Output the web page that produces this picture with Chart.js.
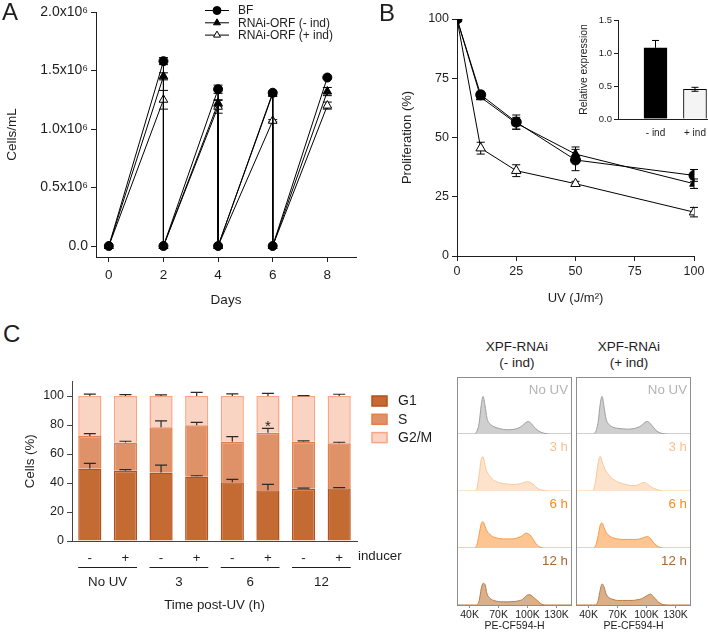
<!DOCTYPE html>
<html>
<head>
<meta charset="utf-8">
<script src="https://cdn.jsdelivr.net/npm/chart.js@4.4.1/dist/chart.umd.min.js"></script>
<style>
  body { margin: 0; background: #fff; font-family: 'Liberation Sans', Arial, sans-serif; color: #1e1e1e; }
  #fig { position: relative; width: 708px; height: 632px; overflow: hidden; background: #fff; }
  #fig canvas, .t, .box { position: absolute; }
  .t { white-space: nowrap; line-height: 16px; text-align: center; font-size: 13.5px; }
  .letter { font-size: 24px; line-height: 26px; text-align: left; }
  .box { border: 1px solid #8e8e8e; box-sizing: border-box; z-index: 2; }
</style>
</head>
<body>
<div id="fig">
  <canvas id="chartA" width="362" height="312" style="left:0;top:0"></canvas>
  <canvas id="chartB" width="348" height="312" style="left:360px;top:0"></canvas>
  <canvas id="chartInset" width="148" height="132" style="left:560px;top:8px"></canvas>
  <canvas id="chartC" width="440" height="262" style="left:0;top:370px"></canvas>

  <div class="t letter" style="left:2px;top:-1px">A</div>
  <div class="t letter" style="left:379px;top:0px">B</div>
  <div class="t letter" style="left:3px;top:321px">C</div>

  <div class="t" style="left:457px;top:339px;width:120px">XPF-RNAi</div>
  <div class="t" style="left:457px;top:355px;width:120px">(- ind)</div>
  <div class="t" style="left:569px;top:339px;width:120px">XPF-RNAi</div>
  <div class="t" style="left:569px;top:355px;width:120px">(+ ind)</div>

  <div class="box" style="left:457px;top:377px;width:115px;height:229px"></div>
  <div class="box" style="left:576px;top:377px;width:115px;height:229px"></div>
</div>

<script>
Chart.defaults.font.family = "'Liberation Sans', Arial, Helvetica, sans-serif";
Chart.defaults.color = '#1e1e1e';
Chart.defaults.animation = false;
Chart.defaults.responsive = false;
Chart.defaults.plugins.legend.display = false;
Chart.defaults.plugins.tooltip.enabled = false;

// ---------- panel A: growth curves (x10^6 cells/mL) ----------
const seriesA = ['BF', 'RNAi-ORF (- ind)', 'RNAi-ORF (+ ind)'];
const daysA = [0, 2, 2, 4, 4, 6, 6, 8];
const bfA = [0, 1.58, 0, 1.34, 0, 1.31, 0, 1.44];
const bfErrA = [0, 0.03, 0, 0.035, 0, 0.01, 0, 0.01];
const minusA = [0, 1.45, 0, 1.22, 0, 1.30, 0, 1.32];
const minusErrA = [0, 0.03, 0, 0.03, 0, 0.01, 0, 0.035];
const plusA = [0, 1.25, 0, 1.19, 0, 1.07, 0, 1.20];
const plusErrA = [0, 0.08, 0, 0.055, 0, 0.01, 0, 0.03];
const dayTicksA = [0, 2, 4, 6, 8];
const cellTicksA = [0, 0.5, 1.0, 1.5, 2.0];
const cellTickLabelsA = ['0.0', '0.5x10⁶', '1.0x10⁶', '1.5x10⁶', '2.0x10⁶'];

// ---------- panel B: UV survival ----------
const uvB = [0, 10, 25, 50, 100];
const bfB = [100, 68, 56.5, 40.5, 34];
const bfErrB = [0, 1.5, 3, 4.5, 2.5];
const minusB = [100, 67, 56, 43, 30.5];
const minusErrB = [0, 1, 2.5, 3, 2];
const plusB = [100, 45.5, 36, 30.5, 18.5];
const plusErrB = [0, 2.5, 2.5, 1, 2];
const uvTicksB = [0, 25, 50, 75, 100];
const prolTicksB = [0, 25, 50, 75, 100];

// inset: relative expression
const insetLabels = ['- ind', '+ ind'];
const insetPos = [1, 2];
const insetVals = [1.08, 0.45];
const insetErr = [0.11, 0.03];
const insetTicks = [0, 0.5, 1.0, 1.5];

// ---------- panel C: cell cycle ----------
const inducerC = ['-', '+', '-', '+', '-', '+', '-', '+'];
const timeGroupsC = ['No UV', '3', '6', '12'];
const phaseC = ['G1', 'S', 'G2/M'];
const g1C = [50, 48.5, 47.3, 44.5, 40.5, 35, 36, 36.3];
const g1ErrC = [3.5, 0.7, 5, 0.5, 2, 4, 0.5, 0.5];
const sC = [22.4, 19.5, 31.1, 35.3, 28, 39.7, 32.5, 31.1];
const sErrC = [1.7, 0.8, 4.4, 2, 3.5, 3, 0.5, 0.7];
const g2mC = [27.6, 32, 21.6, 20.2, 31.5, 25.3, 31.5, 32.6];
const g2mErrC = [1.3, 1, 0.8, 2.5, 1.5, 1.8, 0.3, 1.2];
const cellTicksC = [0, 20, 40, 60, 80, 100];
const starIndexC = 5;

// flow histograms (PE-CF594-H in K, height as % of row)
const histX = [27, 44, 47, 50, 52, 54, 56, 58, 61, 65, 70, 75, 80, 85, 90, 95, 98, 101, 104, 107, 110, 114, 118, 125, 146];
const histTicks = [40, 70, 100, 130];
const histRowLabels = ['No UV', '3 h', '6 h', '12 h'];
const noUvMinus = [0, 0, 3, 20, 50, 66, 50, 28, 18, 13, 10, 8, 7.5, 8, 10, 15, 20, 22, 18, 12, 7, 3, 1, 0, 0];
const h3Minus   = [0, 0, 2, 30, 55, 60, 45, 34, 26, 19, 15, 13, 12, 11.5, 12, 14, 16, 16, 14, 10, 5, 2, 0.5, 0, 0];
const h6Minus   = [0, 0, 3, 25, 42, 46, 38, 30, 24, 19, 17, 16, 16, 16, 18, 22, 26, 25, 20, 12, 5, 1, 0, 0, 0];
const h12Minus  = [0, 0, 0, 8, 28, 38, 36, 20, 12, 8, 6, 5.5, 5.5, 6, 7, 10, 15, 18, 17, 12, 8, 2, 0, 0, 0];
const noUvPlus  = [0, 0, 3, 22, 52, 66, 48, 27, 17, 12, 10, 9, 8.5, 9, 11, 15, 20, 22, 18, 12, 6, 2, 0.5, 0, 0];
const h3Plus    = [0, 0, 15, 50, 61, 52, 42, 35, 28, 21, 16, 13, 11, 9.5, 10, 14, 15, 12, 8, 5, 3, 1, 0, 0, 0];
const h6Plus    = [0, 0, 3, 22, 40, 44, 36, 28, 22, 18, 16, 15, 15, 15, 15, 17, 19, 20, 17, 10, 5, 1, 0, 0, 0];
const h12Plus   = [0, 0, 0, 8, 26, 37, 32, 20, 13, 10, 8, 8, 8, 8, 9, 11, 14, 17, 19, 15, 9, 3, 0.5, 0, 0];
const histMinus = [noUvMinus, h3Minus, h6Minus, h12Minus];
const histPlus = [noUvPlus, h3Plus, h6Plus, h12Plus];

// ---------- helpers ----------
const INK = '#1e1e1e';
const fixedTicks = vals => s => { s.ticks = vals.map(v => ({ value: v })); };
const grid = (len) => ({ drawOnChartArea: false, color: INK, tickLength: len, tickWidth: 1 });
const xy = (xs, ys) => xs.map((x, i) => ({ x: x, y: ys[i] }));

// error bars, drawn from each dataset's "errors" array
const errorBars = {
  id: 'errorBars',
  beforeDatasetsDraw(chart, args, opts) { if (opts.under) drawErrors(chart, opts); },
  afterDatasetsDraw(chart, args, opts) { if (!opts.under) drawErrors(chart, opts); }
};
function drawErrors(chart, opts) {
  const ctx = chart.ctx;
  chart.data.datasets.forEach((ds, i) => {
    if (!ds.errors) return;
    const meta = chart.getDatasetMeta(i);
    const ys = chart.scales[meta.yAxisID];
    const unit = ys.getPixelForValue(0) - ys.getPixelForValue(1);
    ctx.save();
    ctx.strokeStyle = opts.color || '#000';
    ctx.lineWidth = opts.width || 1;
    meta.data.forEach((el, j) => {
      const e = ds.errors[j];
      if (!e) return;
      const d = e * unit, c = opts.cap / 2, x = el.x, y = el.y;
      ctx.beginPath();
      ctx.moveTo(x, y); ctx.lineTo(x, y - d);
      ctx.moveTo(x - c, y - d); ctx.lineTo(x + c, y - d);
      if (!opts.upOnly) {
        ctx.moveTo(x, y); ctx.lineTo(x, y + d);
        ctx.moveTo(x - c, y + d); ctx.lineTo(x + c, y + d);
      }
      ctx.stroke();
    });
    ctx.restore();
  });
}

function lineSet(label, xs, ys, errs, style, fill, r) {
  return {
    label: label, data: xy(xs, ys), errors: errs, showLine: true,
    borderColor: '#000', borderWidth: 1, pointStyle: style, pointRadius: r,
    pointBackgroundColor: fill, pointBorderColor: '#000', pointBorderWidth: 1
  };
}

// ---------- chart A ----------
const legendA = {
  id: 'legendA',
  afterDraw(chart) {
    const ctx = chart.ctx;
    ctx.save();
    chart.data.datasets.forEach((ds, i) => {
      const y = 10.5 + i * 12.3;
      ctx.strokeStyle = '#000'; ctx.lineWidth = 1;
      ctx.beginPath(); ctx.moveTo(205, y); ctx.lineTo(229, y); ctx.stroke();
      ctx.fillStyle = ds.pointBackgroundColor;
      Chart.helpers.drawPoint(ctx, { pointStyle: ds.pointStyle, radius: 4, rotation: 0, borderWidth: 1 }, 217, y);
      ctx.fillStyle = INK; ctx.font = "12px 'Liberation Sans', Arial, sans-serif";
      ctx.textBaseline = 'middle'; ctx.textAlign = 'left';
      ctx.fillText(ds.label, 238, y + 0.5);
    });
    ctx.restore();
  }
};

new Chart(document.getElementById('chartA'), {
  type: 'scatter',
  data: { datasets: [
    lineSet(seriesA[0], daysA, bfA, bfErrA, 'circle', '#000', 4.5),
    lineSet(seriesA[1], daysA, minusA, minusErrA, 'triangle', '#000', 5),
    lineSet(seriesA[2], daysA, plusA, plusErrA, 'triangle', '#fff', 5)
  ] },
  options: {
    layout: { padding: { top: 12, right: 2, left: 0, bottom: 0 } },
    plugins: { errorBars: { under: true, cap: 9 } },
    scales: {
      x: {
        type: 'linear', min: -0.47, max: 9.05, bounds: 'data',
        afterBuildTicks: fixedTicks(dayTicksA), afterFit: s => { s.height = 55; },
        grid: grid(5), border: { color: INK },
        ticks: { font: { size: 13.5 }, padding: 5, autoSkip: false, maxRotation: 0 },
        title: { display: true, text: 'Days', font: { size: 13.5 }, padding: { top: 0, bottom: 4 } }
      },
      y: {
        type: 'linear', min: -0.094, max: 2.0, bounds: 'data',
        afterBuildTicks: fixedTicks(cellTicksA), afterFit: s => { s.width = 96; },
        grid: grid(5), border: { color: INK },
        ticks: { font: { size: 14 }, padding: 3, autoSkip: false, callback: (v, i) => cellTickLabelsA[i] },
        title: { display: true, text: 'Cells/mL', font: { size: 13.5 }, padding: { top: 4, bottom: 0 } }
      }
    }
  },
  plugins: [errorBars, legendA]
});

// ---------- chart B ----------
new Chart(document.getElementById('chartB'), {
  type: 'scatter',
  data: { datasets: [
    lineSet('BF', uvB, bfB, bfErrB, 'circle', '#000', 5),
    lineSet('RNAi-ORF (- ind)', uvB, minusB, minusErrB, 'triangle', '#000', 5),
    lineSet('RNAi-ORF (+ ind)', uvB, plusB, plusErrB, 'triangle', '#fff', 5.5)
  ] },
  options: {
    layout: { padding: { top: 19, right: 14, left: 0, bottom: 0 } },
    plugins: { errorBars: { under: true, cap: 8 } },
    scales: {
      x: {
        type: 'linear', min: 0, max: 100, bounds: 'data',
        afterBuildTicks: fixedTicks(uvTicksB), afterFit: s => { s.height = 56; },
        grid: grid(5), border: { color: INK },
        ticks: { font: { size: 12.5 }, padding: 3, autoSkip: false, maxRotation: 0 },
        title: { display: true, text: 'UV (J/m²)', font: { size: 13 }, padding: { top: 0, bottom: 6 } }
      },
      y: {
        type: 'linear', min: 0, max: 100, bounds: 'data',
        afterBuildTicks: fixedTicks(prolTicksB), afterFit: s => { s.width = 97; },
        grid: grid(5), border: { color: INK },
        ticks: { font: { size: 12.5 }, padding: 3, autoSkip: false },
        title: { display: true, text: 'Proliferation (%)', font: { size: 13 }, padding: { top: 40, bottom: 0 } }
      }
    }
  },
  plugins: [errorBars]
});

// ---------- inset ----------
new Chart(document.getElementById('chartInset'), {
  type: 'bar',
  data: { datasets: [{
    data: xy(insetPos, insetVals), errors: insetErr,
    backgroundColor: ['#000', '#f4f4f4'], borderColor: '#000', borderWidth: 1, barThickness: 23
  }] },
  options: {
    layout: { padding: { top: 12, right: 0, left: 0, bottom: 0 } },
    plugins: { errorBars: { under: false, cap: 7 } },
    scales: {
      x: {
        type: 'linear', min: 0.05, max: 2.33, bounds: 'data', offset: false,
        afterBuildTicks: fixedTicks(insetPos), afterFit: s => { s.height = 21; },
        grid: { display: false }, border: { color: INK },
        ticks: { font: { size: 10 }, padding: 0, autoSkip: false, maxRotation: 0, callback: (v, i) => insetLabels[i] }
      },
      y: {
        type: 'linear', min: 0, max: 1.5, bounds: 'data',
        afterBuildTicks: fixedTicks(insetTicks), afterFit: s => { s.width = 58; },
        grid: grid(4), border: { color: INK },
        ticks: { font: { size: 9.5 }, padding: 2, autoSkip: false, callback: v => v.toFixed(1) },
        title: { display: true, text: 'Relative expression', font: { size: 10.4 }, padding: { top: 18, bottom: 0 } }
      }
    }
  },
  plugins: [errorBars]
});

// ---------- chart C ----------
const extrasC = {
  id: 'extrasC',
  afterDraw(chart) {
    const ctx = chart.ctx;
    const meta = chart.getDatasetMeta(0);
    ctx.save();
    ctx.fillStyle = INK; ctx.strokeStyle = INK; ctx.lineWidth = 1;
    ctx.font = "13.3px 'Liberation Sans', Arial, sans-serif";
    ctx.textAlign = 'center'; ctx.textBaseline = 'middle';
    timeGroupsC.forEach((g, k) => {
      const a = meta.data[2 * k], b = meta.data[2 * k + 1];
      const x0 = a.x - a.width / 2, x1 = b.x + b.width / 2;
      ctx.beginPath(); ctx.moveTo(x0, 197.5); ctx.lineTo(x1, 197.5); ctx.stroke();
      ctx.fillText(g, (x0 + x1) / 2, 212);
    });
    ctx.textAlign = 'left';
    ctx.fillText('inducer', 358, 186);
    // legend
    chart.data.datasets.forEach((ds, i) => {
      const y = 26 + i * 18.3;
      ctx.fillStyle = ds.backgroundColor; ctx.strokeStyle = ds.borderColor; ctx.lineWidth = 1.5;
      ctx.fillRect(372, y, 15, 10); ctx.strokeRect(372, y, 15, 10);
      ctx.fillStyle = INK; ctx.font = "14px 'Liberation Sans', Arial, sans-serif";
      ctx.fillText(ds.label, 398, y + 5.5);
    });
    // significance mark over the S segment
    const sMeta = chart.getDatasetMeta(1);
    const ys = chart.scales.y;
    const el = sMeta.data[starIndexC];
    const top = el.y - sErrC[starIndexC] * (ys.getPixelForValue(0) - ys.getPixelForValue(1));
    ctx.textAlign = 'center'; ctx.textBaseline = 'alphabetic';
    ctx.font = "15px 'Liberation Sans', Arial, sans-serif";
    ctx.fillText('*', el.x, top + 3);
    ctx.restore();
  }
};

new Chart(document.getElementById('chartC'), {
  type: 'bar',
  data: {
    labels: inducerC,
    datasets: [
      { label: phaseC[0], data: g1C, errors: g1ErrC, backgroundColor: '#c46b33', borderColor: '#b4501c', borderWidth: 1.5 },
      { label: phaseC[1], data: sC, errors: sErrC, backgroundColor: '#df9168', borderColor: '#e57d4c', borderWidth: 1.5 },
      { label: phaseC[2], data: g2mC, errors: g2mErrC, backgroundColor: '#f9d4c2', borderColor: '#fca384', borderWidth: 1.5 }
    ]
  },
  options: {
    layout: { padding: { top: 11.5, right: 83, left: 0, bottom: 0 } },
    datasets: { bar: { barPercentage: 0.65, categoryPercentage: 1 } },
    plugins: { errorBars: { under: false, cap: 12, color: '#2a2a2a', width: 1.2, upOnly: true } },
    scales: {
      x: {
        stacked: true, afterFit: s => { s.height = 91; },
        grid: { display: false }, border: { color: '#444' },
        ticks: { font: { size: 13.3 }, padding: 1, maxRotation: 0 },
        title: { display: true, text: 'Time post-UV (h)', font: { size: 13.3 }, padding: { top: 0, bottom: 19 } }
      },
      y: {
        stacked: true, min: 0, max: 110, bounds: 'data',
        afterBuildTicks: fixedTicks(cellTicksC), afterFit: s => { s.width = 72; },
        grid: { drawOnChartArea: false, color: '#444', tickLength: 5 }, border: { color: '#444' },
        ticks: { font: { size: 12.5 }, padding: 3, autoSkip: false },
        title: { display: true, text: 'Cells (%)', font: { size: 13.3 }, padding: { top: 22, bottom: 0 } }
      }
    }
  },
  plugins: [errorBars, extrasC]
});

// ---------- flow histograms ----------
const histStyles = [
  { line: '#9e9e9e', fill: '#cfcfcf', text: '#b3b3b3' },
  { line: '#fbc89a', fill: '#fde3cb', text: '#fbc08a' },
  { line: '#f59c4a', fill: '#fcc592', text: '#f7891e' },
  { line: '#b87c47', fill: '#d9b08c', text: '#a8652f' }
];
const histTops = [377, 434, 491, 548];
const histLefts = [457, 576];
const fig = document.getElementById('fig');

const rowLabel = {
  id: 'rowLabel',
  afterDraw(chart, args, opts) {
    const ctx = chart.ctx, a = chart.chartArea;
    ctx.save();
    ctx.fillStyle = opts.color;
    ctx.font = "13.3px 'Liberation Sans', Arial, sans-serif";
    ctx.textAlign = 'right'; ctx.textBaseline = 'middle';
    ctx.fillText(opts.text, a.right - 4, a.top + 13);
    ctx.restore();
  }
};

[histMinus, histPlus].forEach((col, c) => col.forEach((ys, r) => {
  const last = r === 3;
  const cv = document.createElement('canvas');
  cv.width = 115; cv.height = last ? 84 : 57;
  cv.style.left = histLefts[c] + 'px'; cv.style.top = histTops[r] + 'px';
  fig.appendChild(cv);
  const st = histStyles[r];
  const xScale = {
    type: 'linear', min: 27, max: 146, bounds: 'data', display: last
  };
  if (last) {
    Object.assign(xScale, {
      afterBuildTicks: fixedTicks(histTicks), afterFit: s => { s.height = 27; },
      grid: { drawOnChartArea: false, color: '#8e8e8e', tickLength: 3 }, border: { color: '#8e8e8e' },
      ticks: { font: { size: 10.5 }, padding: 1, autoSkip: false, maxRotation: 0, callback: v => v + 'K' },
      title: { display: true, text: 'PE-CF594-H', font: { size: 10.5 }, padding: { top: 0, bottom: 0 } }
    });
  }
  new Chart(cv, {
    type: 'scatter',
    data: { datasets: [{
      data: xy(histX, ys), showLine: true, fill: 'origin', clip: false,
      borderColor: st.line, backgroundColor: st.fill, borderWidth: 1,
      pointRadius: 0, cubicInterpolationMode: 'monotone'
    }] },
    options: {
      layout: { padding: 0 },
      plugins: { rowLabel: { text: histRowLabels[r], color: st.text } },
      scales: {
        x: xScale,
        y: { type: 'linear', min: 0, max: 100, display: false }
      }
    },
    plugins: [rowLabel]
  });
}));
</script>
</body>
</html>
